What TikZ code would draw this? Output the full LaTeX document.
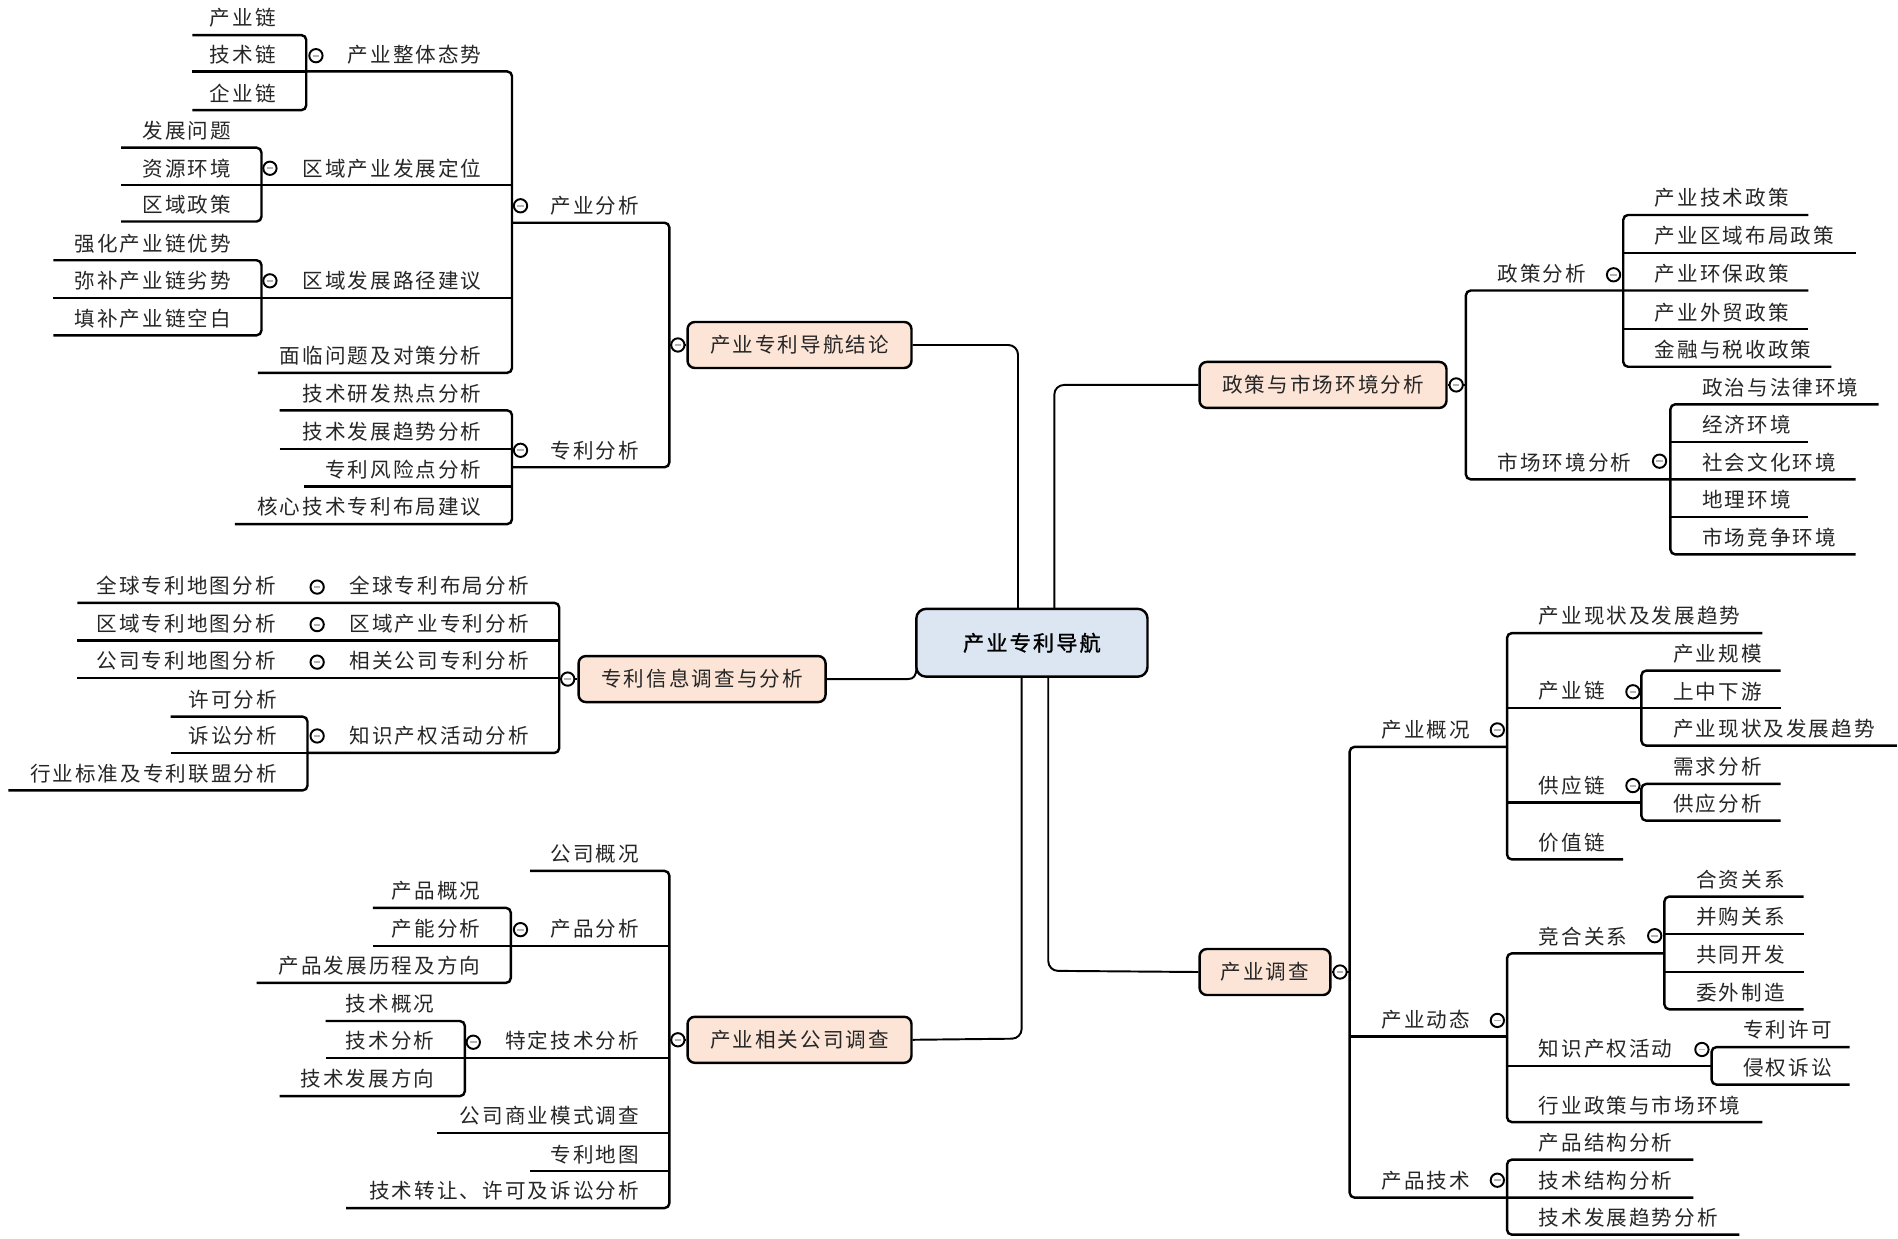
\documentclass[tikz,border=0pt]{standalone}
\usepackage{fontspec}
\newfontfamily\cjk[LetterSpace=10]{Noto Sans CJK SC}
\newfontfamily\cjkb[LetterSpace=10,FakeBold=1.2]{Noto Sans CJK SC}
\definecolor{peach}{HTML}{FCE4D6}
\definecolor{cblue}{HTML}{DCE6F2}
\newcommand\LL[4]{\node[lbl,anchor=east] (#1) at ({#2-25},{#3-14}) {#4};}
\newcommand\RL[4]{\node[lbl,anchor=west] (#1) at ({#2+26},{#3-14}) {#4};}
\newcommand\TG[3]{\node[togc] (#1) at (#2,#3) {}; \draw[gray!60,line width=1.5pt] ({#2-2.7},#3) -- ({#2+2.7},#3);}
\begin{document}
\begin{tikzpicture}[x=1pt,y=-1pt,
  ln/.style={line width=2pt, rounded corners=4pt, black},
  cln/.style={line width=1.6pt, rounded corners=8pt, black},
  lbl/.style={font=\cjk\fontsize{17}{20}\selectfont, inner sep=0pt, text=black!85},
  topic/.style={draw, line width=2pt, rounded corners=6pt, fill=peach, minimum height=38pt, inner sep=0pt, font=\cjk\fontsize{17}{20}\selectfont, text=black!85},
  togc/.style={circle, draw, line width=1.6pt, fill=white, minimum size=11pt, inner sep=0pt}]
\useasboundingbox[fill=white] (0,0) rectangle (1568,1023);

% central connectors
\coordinate (ca) at (841,503); \coordinate (cd) at (871,503);
\coordinate (cc) at (844,559); \coordinate (ce) at (866,559);
\node[topic, minimum width=185pt] (A) at (660.5,285) {产业专利导航结论};
\node[topic, minimum width=204pt] (B) at (580,561) {专利信息调查与分析};
\node[topic, minimum width=185pt] (C) at (660.5,859) {产业相关公司调查};
\node[topic, minimum width=204pt] (D) at (1093,318) {政策与市场环境分析};
\node[topic, minimum width=108pt] (E) at (1045,803) {产业调查};
\draw[cln] (ca) -- (841,285) -- (A.east);
\draw[cln] (cd) -- (871,318) -- (D.west);
\draw[cln] (cc) -- (844,858) -- (C.east);
\draw[cln] (ce) -- (866,802) -- (E.west);
\draw[line width=1.6pt] (B.east) -- (750,561) .. controls (755,561) and (757,558) .. (757,552);
\node[draw, line width=2pt, rounded corners=8pt, fill=cblue, minimum width=191pt, minimum height=56pt, inner sep=0pt, font=\cjkb\fontsize{17.5}{20}\selectfont] (root) at (852.5,531) {产业专利导航};

% Section A
\draw[ln] (553,285) -- (A.west);
\draw[ln] (423,184)--(553,184)--(553,386)--(423,386);
\draw[ln] (253,59)--(423,59)--(423,308)--(213,308);
\draw[ln] (216,153)--(423,153);
\draw[ln] (216,246)--(423,246);
\draw[ln] (159,29)--(253,29)--(253,91)--(159,91);
\draw[ln] (159,59)--(253,59);
\draw[ln] (100,122)--(216,122)--(216,183)--(100,183);
\draw[ln] (100,153)--(216,153);
\draw[ln] (44,215)--(216,215)--(216,277)--(44,277);
\draw[ln] (44,246)--(216,246);
\draw[ln] (231,339)--(423,339)--(423,433)--(194,433);
\draw[ln] (231,371)--(423,371);
\draw[ln] (251,402)--(423,402);

% Section B
\draw[ln] (64,498)--(462,498)--(462,622)--(254,622);
\draw[ln] (64,529)--(462,529);
\draw[ln] (64,560)--(462,560);
\draw[ln] (462,561)--(B.west);
\draw[ln] (141,592)--(254,592)--(254,653)--(7,653);
\draw[ln] (141,622)--(254,622);

% Section C
\draw[ln] (438,719.5)--(553,719.5)--(553,998)--(286,998);
\draw[ln] (308,781.5)--(553,781.5);
\draw[ln] (269,874)--(553,874);
\draw[ln] (361,936)--(553,936);
\draw[ln] (438,967.5)--(553,967.5);
\draw[ln] (553,859)--(C.west);
\draw[ln] (308,750)--(422,750)--(422,812)--(212,812);
\draw[ln] (269,843.5)--(384,843.5)--(384,905.5)--(231,905.5);

% Section D
\draw[ln] (1494,240)--(1211,240)--(1211,396)--(1533,396);
\draw[ln] (D.east)--(1211,318);
\draw[ln] (1494,177.6)--(1341,177.6)--(1341,303)--(1513,303);
\draw[ln] (1341,209)--(1533,209);
\draw[ln] (1341,272)--(1494,272);
\draw[ln] (1552,334)--(1380,334)--(1380,458)--(1533,458);
\draw[ln] (1380,365)--(1494,365);
\draw[ln] (1380,427)--(1494,427);

% Section E
\draw[ln] (1245,617)--(1115,617)--(1115,989.4)--(1399,989.4);
\draw[ln] (1115,856.4)--(1245,856.4);
\draw[ln] (E.east)--(1115,803);
\draw[ln] (1456,523)--(1245,523)--(1245,710)--(1341,710);
\draw[ln] (1245,585)--(1471,585);
\draw[ln] (1245,663)--(1356,663);
\draw[ln] (1471,554)--(1356,554)--(1356,616)--(1567,616);
\draw[ln] (1471,647.6)--(1356,647.6)--(1356,678)--(1471,678);
\draw[ln] (1375,787.6)--(1245,787.6)--(1245,927)--(1456,927);
\draw[ln] (1245,880.6)--(1414,880.6);
\draw[ln] (1490,740.7)--(1375,740.7)--(1375,833.8)--(1490,833.8);
\draw[ln] (1375,771.6)--(1490,771.6);
\draw[ln] (1375,803)--(1490,803);
\draw[ln] (1528,865)--(1414,865)--(1414,896)--(1528,896);
\draw[ln] (1399,958)--(1245,958)--(1245,1020)--(1437,1020);

% toggles
\TG{tA}{560}{285} \TG{tB}{469}{561} \TG{tC}{560}{859} \TG{tD}{1203}{318} \TG{tE}{1107}{803}
\TG{t1}{430}{170} \TG{t2}{430}{372} \TG{t3}{261}{46} \TG{t4}{223}{139} \TG{t5}{223}{232}
\TG{t6}{262}{485} \TG{t7}{262}{516} \TG{t8}{262}{547} \TG{t9}{262}{608}
\TG{t10}{430}{768} \TG{t11}{391}{861}
\TG{t12}{1333}{227} \TG{t13}{1371}{381}
\TG{t14}{1237}{603} \TG{t15}{1349}{571.5} \TG{t16}{1349}{649}
\TG{t17}{1237}{843} \TG{t18}{1367}{773} \TG{t19}{1406}{867} \TG{t20}{1237}{975}

% labels A
\LL{a1}{553}{184}{产业分析}
\LL{a2}{553}{386}{专利分析}
\LL{a3}{423}{59}{产业整体态势}
\LL{a4}{423}{153}{区域产业发展定位}
\LL{a5}{423}{246}{区域发展路径建议}
\LL{a6}{423}{308}{面临问题及对策分析}
\LL{a7}{253}{29}{产业链}
\LL{a8}{253}{59}{技术链}
\LL{a9}{253}{91}{企业链}
\LL{a10}{216}{122}{发展问题}
\LL{a11}{216}{153}{资源环境}
\LL{a12}{216}{183}{区域政策}
\LL{a13}{216}{215}{强化产业链优势}
\LL{a14}{216}{246}{弥补产业链劣势}
\LL{a15}{216}{277}{填补产业链空白}
\LL{a16}{423}{339}{技术研发热点分析}
\LL{a17}{423}{371}{技术发展趋势分析}
\LL{a18}{423}{402}{专利风险点分析}
\LL{a19}{423}{433}{核心技术专利布局建议}
% labels B
\LL{b1}{462}{498}{全球专利布局分析}
\LL{b2}{462}{529}{区域产业专利分析}
\LL{b3}{462}{560}{相关公司专利分析}
\LL{b4}{462}{622}{知识产权活动分析}
\LL{b5}{253}{498}{全球专利地图分析}
\LL{b6}{253}{529}{区域专利地图分析}
\LL{b7}{253}{560}{公司专利地图分析}
\LL{b8}{254}{592}{许可分析}
\LL{b9}{254}{622}{诉讼分析}
\LL{b10}{254}{653}{行业标准及专利联盟分析}
% labels C
\LL{c1}{553}{719.5}{公司概况}
\LL{c2}{553}{781.5}{产品分析}
\LL{c3}{553}{874}{特定技术分析}
\LL{c4}{553}{936}{公司商业模式调查}
\LL{c5}{553}{967.5}{专利地图}
\LL{c6}{553}{998}{技术转让、许可及诉讼分析}
\LL{c7}{422}{750}{产品概况}
\LL{c8}{422}{781.5}{产能分析}
\LL{c9}{422}{812}{产品发展历程及方向}
\LL{c10}{384}{843.5}{技术概况}
\LL{c11}{384}{874}{技术分析}
\LL{c12}{384}{905.5}{技术发展方向}
% labels D
\RL{d1}{1211}{240}{政策分析}
\RL{d2}{1211}{396}{市场环境分析}
\RL{d3}{1341}{177.6}{产业技术政策}
\RL{d4}{1341}{209}{产业区域布局政策}
\RL{d5}{1341}{240}{产业环保政策}
\RL{d6}{1341}{272}{产业外贸政策}
\RL{d7}{1341}{303}{金融与税收政策}
\RL{d8}{1380}{334}{政治与法律环境}
\RL{d9}{1380}{365}{经济环境}
\RL{d10}{1380}{396}{社会文化环境}
\RL{d11}{1380}{427}{地理环境}
\RL{d12}{1380}{458}{市场竞争环境}
% labels E
\RL{e1}{1115}{617}{产业概况}
\RL{e2}{1115}{856.4}{产业动态}
\RL{e3}{1115}{989.4}{产品技术}
\RL{e4}{1245}{523}{产业现状及发展趋势}
\RL{e5}{1245}{585}{产业链}
\RL{e6}{1245}{663}{供应链}
\RL{e7}{1245}{710}{价值链}
\RL{e8}{1356}{554}{产业规模}
\RL{e9}{1356}{585}{上中下游}
\RL{e10}{1356}{616}{产业现状及发展趋势}
\RL{e11}{1356}{647.6}{需求分析}
\RL{e12}{1356}{678}{供应分析}
\RL{e13}{1245}{787.6}{竞合关系}
\RL{e14}{1245}{880.6}{知识产权活动}
\RL{e15}{1245}{927}{行业政策与市场环境}
\RL{e16}{1375}{740.7}{合资关系}
\RL{e17}{1375}{771.6}{并购关系}
\RL{e18}{1375}{803}{共同开发}
\RL{e19}{1375}{833.8}{委外制造}
\RL{e20}{1414}{865}{专利许可}
\RL{e21}{1414}{896}{侵权诉讼}
\RL{e22}{1245}{958}{产品结构分析}
\RL{e23}{1245}{989.4}{技术结构分析}
\RL{e24}{1245}{1020}{技术发展趋势分析}
\end{tikzpicture}
\end{document}
